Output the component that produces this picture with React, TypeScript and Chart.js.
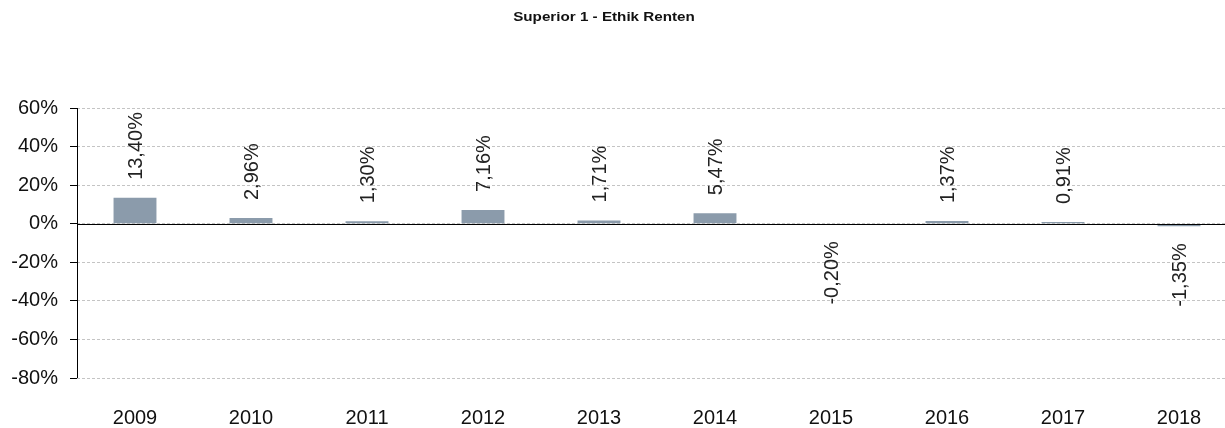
import React, { useEffect, useRef } from "react";
import { Chart, registerables } from "chart.js";

Chart.register(...registerables);

const TITLE = "Superior 1 - Ethik Renten";
const YEARS = ["2009", "2010", "2011", "2012", "2013", "2014", "2015", "2016", "2017", "2018"];
const RETURNS = [13.4, 2.96, 1.3, 7.16, 1.71, 5.47, -0.2, 1.37, 0.91, -1.35];
const Y_MIN = -80;
const Y_MAX = 60;
const Y_STEP = 20;

const FONT = "'Liberation Sans', Arial, sans-serif";

const fmt = (v: number) => v.toFixed(2).replace(".", ",") + "%";

const overlayPlugin = {
  id: "overlay",
  afterDatasetsDraw(chart: any) {
    const { ctx, chartArea, scales } = chart;
    const y = scales.y;
    const zero = y.getPixelForValue(0);
    ctx.save();
    ctx.strokeStyle = "#000";
    ctx.lineWidth = 1;
    ctx.setLineDash([]);
    ctx.beginPath();
    ctx.moveTo(chartArea.left, Math.round(zero) + 0.5);
    ctx.lineTo(chartArea.right, Math.round(zero) + 0.5);
    ctx.stroke();
    ctx.beginPath();
    ctx.moveTo(Math.round(chartArea.left) + 0.5, chartArea.top);
    ctx.lineTo(Math.round(chartArea.left) + 0.5, chartArea.bottom);
    ctx.stroke();

    const meta = chart.getDatasetMeta(0);
    ctx.fillStyle = "#222";
    ctx.font = `20px ${FONT}`;
    ctx.textBaseline = "middle";
    meta.data.forEach((bar: any, i: number) => {
      const v = RETURNS[i];
      ctx.save();
      ctx.translate(bar.x + 1, 0);
      ctx.rotate(-Math.PI / 2);
      if (v >= 0) {
        const top = Math.min(bar.y, bar.base);
        ctx.textAlign = "left";
        ctx.fillText(fmt(v), -(top - 18), 0);
      } else {
        const bottom = Math.max(bar.y, bar.base);
        ctx.textAlign = "right";
        ctx.fillText(fmt(v), -(bottom + 17), 0);
      }
      ctx.restore();
    });

    ctx.fillStyle = "#111";
    ctx.font = `bold 13px ${FONT}`;
    ctx.textAlign = "center";
    ctx.textBaseline = "middle";
    ctx.translate(604, 17);
    ctx.scale(1.17, 1);
    ctx.fillText(TITLE, 0, 0);
    ctx.restore();
  },
};

export default function App() {
  const ref = useRef<HTMLCanvasElement>(null);
  useEffect(() => {
    if (!ref.current) return;
    const chart = new Chart(ref.current, {
      type: "bar",
      data: {
        labels: YEARS,
        datasets: [
          {
            data: RETURNS,
            backgroundColor: "#8b9bab",
            borderWidth: 0,
            categoryPercentage: 1,
            barPercentage: 0.37,
          },
        ],
      },
      options: {
        animation: false,
        responsive: true,
        maintainAspectRatio: false,
        layout: { padding: { top: 108, left: 0, right: 0, bottom: 0 } },
        plugins: {
          legend: { display: false },
          title: { display: false },
          tooltip: { enabled: false },
        },
        scales: {
          x: {
            grid: { display: false, drawTicks: false },
            border: { display: false },
            ticks: {
              color: "#111",
              font: { family: FONT, size: 20 },
              padding: 28,
              maxRotation: 0,
            },
            afterFit(scale: any) {
              scale.height = 50;
            },
          },
          y: {
            min: Y_MIN,
            max: Y_MAX,
            grid: {
              color: "#c4c4c4",
              lineWidth: 1,
              tickLength: 7,
              tickColor: "#000",
              tickBorderDash: [],
            },
            border: { display: false, dash: [3, 2] },
            ticks: {
              stepSize: Y_STEP,
              color: "#111",
              padding: 12,
              font: { family: FONT, size: 20 },
              callback: (v: any) => `${v}%`,
            },
            afterFit(scale: any) {
              scale.width = 77;
            },
          },
        },
      },
      plugins: [overlayPlugin],
    });
    return () => chart.destroy();
  }, []);
  return (
    <div
      style={{
        position: "fixed",
        left: 0,
        top: 0,
        width: 1225,
        height: 428,
        overflow: "hidden",
        background: "#fff",
      }}
    >
      <div style={{ position: "relative", width: 1237, height: 428 }}>
        <canvas ref={ref} />
      </div>
    </div>
  );
}
